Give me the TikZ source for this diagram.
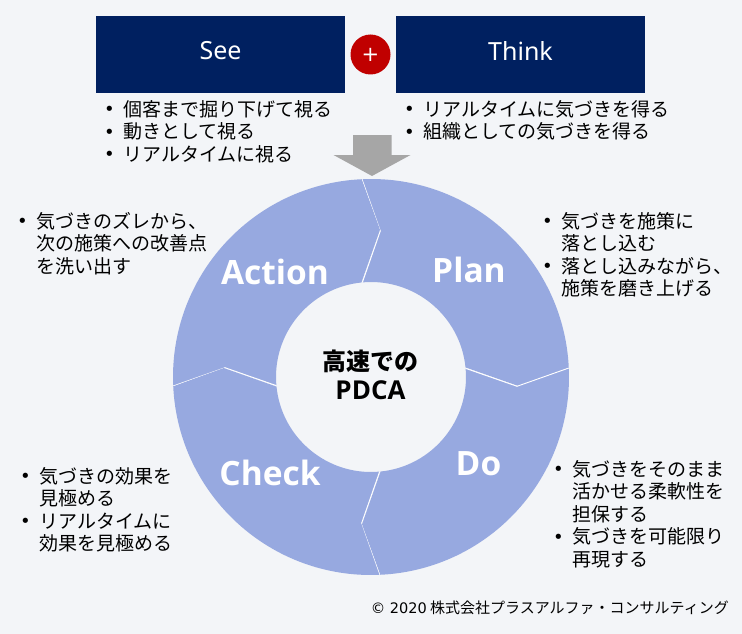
\documentclass[tikz,border=0pt]{standalone}
\usepackage{fontspec}
\setmainfont{Noto Sans CJK JP}
\newfontfamily\latinfont{DejaVu Sans}
\newfontfamily\headfont{Noto Sans}
\newfontfamily\labelfont{Open Sans}
\newcommand{\bu}{\makebox[19pt][l]{\latinfont\fontsize{18}{18}\selectfont\raisebox{0.5pt}{•}}}
\newcommand{\ind}{\hspace*{19pt}}
\definecolor{bgcol}{HTML}{F3F5F8}
\definecolor{navy}{HTML}{002060}
\definecolor{redc}{HTML}{C00000}
\definecolor{ringc}{HTML}{97A9E0}
\definecolor{arrowc}{HTML}{A6A6A6}
\tikzset{
  headbox/.style={fill=navy,text=white,minimum width=249pt,minimum height=77pt,inner sep=0pt},
  headtext/.style={text=white,inner sep=0pt,font=\headfont\fontsize{25}{30}\selectfont},
  bulletlist/.style={anchor=north west,align=left,inner sep=0pt,text=black,font=\fontsize{19}{22.5}\selectfont},
  seglabel/.style={text=white,inner sep=0pt,font=\labelfont\bfseries\fontsize{33.5}{40}\selectfont},
}
\begin{document}
\begin{tikzpicture}[x=1pt,y=-1pt]
\useasboundingbox (0,0) rectangle (742,634);
\fill[bgcol] (0,0) rectangle (742,634);
\node[headbox] (see) at (220.5,54.5) {};
\node[headbox] (think) at (520.5,54.5) {};
\node[headtext] (seetext) at (220.5,51) {See};
\node[headtext] (thinktext) at (520.5,51) {Think};
\node[circle,fill=redc,text=white,minimum size=40pt,inner sep=0pt,font=\latinfont\fontsize{21}{21}\selectfont] (plus) at (370.5,54.5) {+};
\node[bulletlist] (seelist) at (104,100) {\bu 個客まで掘り下げて視る\\\bu 動きとして視る\\\bu リアルタイムに視る};
\node[bulletlist] (thinklist) at (404,100) {\bu リアルタイムに気づきを得る\\\bu 組織としての気づきを得る};
\fill[arrowc] (353,135) -- (391.5,135) -- (391.5,155) -- (410.5,155) -- (372,176) -- (333.5,155) -- (353,155) -- cycle;
\foreach \r/\n in {0/plan,90/do,180/check,270/action}{
  \begin{scope}[rotate around={\r:(371,377)}]
  \fill[ringc] ([shift={(267.4:198)}]371,377) arc[start angle=267.4,end angle=357.3,radius=198] -- (518.3,386) -- ([shift={(354.2:95)}]371,377) arc[start angle=354.2,end angle=264.8,radius=95] -- (380.3,231) -- cycle;
  \draw[white,line width=0.9pt,line join=miter] ([shift={(267.4:198)}]371,377) -- (380.3,231) -- ([shift={(264.8:95)}]371,377);
  \end{scope}
}
\node[seglabel] (plan) at (469,270) {Plan};
\node[seglabel] (do) at (478.5,464) {Do};
\node[seglabel] (check) at (270,473) {Check};
\node[seglabel] (action) at (275,272) {Action};
\node[align=center,inner sep=0pt,text=black,font=\bfseries\fontsize{24}{29}\selectfont] (center) at (370.5,374.5) {高速での\\{\labelfont\fontsize{26}{29}\selectfont\bfseries PDCA}};
\node[bulletlist] (actionlist) at (17,212) {\bu 気づきのズレから、\\\ind 次の施策への改善点\\\ind を洗い出す};
\node[bulletlist] (planlist) at (542,212) {\bu 気づきを施策に\\\ind 落とし込む\\\bu 落とし込みながら、\\\ind 施策を磨き上げる};
\node[bulletlist] (checklist) at (20,467) {\bu 気づきの効果を\\\ind 見極める\\\bu リアルタイムに\\\ind 効果を見極める};
\node[bulletlist] (dolist) at (553,460) {\bu 気づきをそのまま\\\ind 活かせる柔軟性を\\\ind 担保する\\\bu 気づきを可能限り\\\ind 再現する};
\node[anchor=east,inner sep=0pt,text=black,font=\fontsize{15}{18}\selectfont] (copy) at (729,608) {{\latinfont\fontsize{14.5}{18}\selectfont © 2020} 株式会社プラスアルファ・コンサルティング};
\end{tikzpicture}
\end{document}
